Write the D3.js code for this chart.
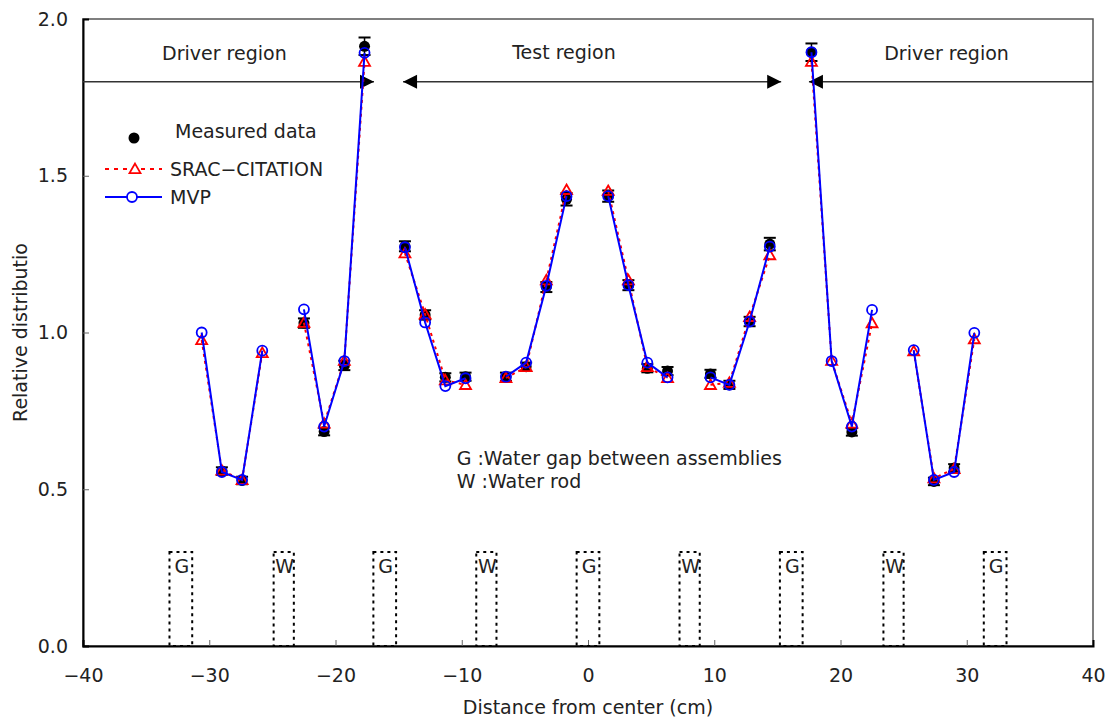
<!DOCTYPE html>
<html>
<head>
<meta charset="utf-8">
<script src="https://cdn.jsdelivr.net/npm/d3@7"></script>
<style>
  body { margin: 0; background: #fff; }
  text { font-family: "DejaVu Sans", sans-serif; fill: #222; }
</style>
</head>
<body>
<div id="chart"></div>
<script>
// pin positions (cm) and relative distributions, 4 pins per half-assembly
var xPos = [-30.6, -29.0, -27.4, -25.8, -22.5, -20.9, -19.3, -17.7,
            -14.5, -12.9, -11.3, -9.7, -6.5, -4.9, -3.3, -1.7,
            1.6, 3.2, 4.7, 6.3, 9.7, 11.2, 12.8, 14.4,
            17.7, 19.3, 20.9, 22.5, 25.8, 27.4, 29.0, 30.6];

var measured = [null, 0.558, 0.528, null, 1.03, 0.684, 0.895, 1.913,
                1.275, 1.056, 0.857, 0.859, 0.859, 0.891, 1.145, 1.425,
                1.435, 1.151, 0.886, 0.877, 0.868, 0.833, 1.035, 1.282,
                1.894, null, 0.683, null, null, 0.525, 0.568, null];

var measErr = [0, 0.012, 0.012, 0, 0.015, 0.012, 0.015, 0.028,
               0.016, 0.015, 0.013, 0.013, 0.013, 0.013, 0.016, 0.02,
               0.018, 0.016, 0.013, 0.013, 0.013, 0.013, 0.015, 0.02,
               0.028, 0, 0.012, 0, 0, 0.012, 0.012, 0];

var srac = [0.976, 0.56, 0.53, 0.935, 1.031, 0.71, 0.91, 1.864,
            1.253, 1.058, 0.848, 0.833, 0.855, 0.89, 1.167, 1.455,
            1.452, 1.167, 0.89, 0.855, 0.833, 0.84, 1.05, 1.247,
            1.864, 0.91, 0.71, 1.03, 0.94, 0.535, 0.565, 0.979];

var mvp = [1.0, 0.555, 0.53, 0.942, 1.074, 0.70, 0.909, 1.892,
           1.272, 1.032, 0.829, 0.854, 0.859, 0.904, 1.149, 1.435,
           1.435, 1.151, 0.904, 0.857, 0.857, 0.833, 1.035, 1.274,
           1.894, 0.909, 0.70, 1.072, 0.944, 0.53, 0.555, 0.999];

var gapCenters = [-32.25, -16.1, 0, 16.1, 32.25];
var rodCenters = [-24.1, -8.05, 8.05, 24.2];

var xTicks = [-40, -30, -20, -10, 0, 10, 20, 30, 40];
var yTicks = [0, 0.5, 1.0, 1.5, 2.0];

var svgWidth = 1109;
var svgHeight = 722;
var margin = { top: 19, right: 16, bottom: 76, left: 83 };
var width = svgWidth - margin.left - margin.right;
var height = svgHeight - margin.top - margin.bottom;

var svg = d3.select("#chart").append("svg")
    .attr("width", svgWidth)
    .attr("height", svgHeight);

var g = svg.append("g")
    .attr("transform", `translate(${margin.left}, ${margin.top})`);

var x = d3.scaleLinear().domain([-40, 40]).range([0, width]);
var y = d3.scaleLinear().domain([0, 2]).range([height, 0]);

// frame
g.append("rect")
    .attr("width", width).attr("height", height)
    .attr("fill", "none").attr("stroke", "#555").attr("stroke-width", 1.5);

// axes with inward ticks
var xAxis = g.append("g")
    .attr("transform", `translate(0, ${height})`)
    .call(d3.axisBottom(x).tickValues(xTicks).tickSize(-6).tickPadding(23)
        .tickFormat(d => d3.format("d")(d).replace("-", "\u2212")));
var yAxis = g.append("g")
    .call(d3.axisLeft(y).tickValues(yTicks).tickSize(-6).tickPadding(15)
        .tickFormat(d3.format(".1f")));

[xAxis, yAxis].forEach(function(a) {
  a.select(".domain").attr("stroke", "#000").attr("stroke-width", 2);
  a.selectAll(".tick line").attr("stroke", "#666");
  a.selectAll(".tick text").attr("font-size", 19).attr("fill", "#222")
    .attr("font-family", "DejaVu Sans, sans-serif");
});
yAxis.selectAll(".tick line").filter(d => d === 0 || d === 2).remove();
xAxis.selectAll(".tick line").filter(d => d === -40 || d === 40).remove();

// axis titles
svg.append("text")
    .attr("x", margin.left + x(0)).attr("y", 714)
    .attr("text-anchor", "middle").attr("font-size", 19)
    .text("Distance from center (cm)");
svg.append("text")
    .attr("transform", `translate(27, ${margin.top + y(1.0)}) rotate(-90)`)
    .attr("text-anchor", "middle").attr("font-size", 19)
    .text("Relative distributio");

// region arrows at 1.8
var arrowY = y(1.8);
var regionLines = [[-40, -16.95], [-14.65, 15.3], [17.5, 40]];
regionLines.forEach(function(r) {
  g.append("line")
      .attr("x1", x(r[0])).attr("x2", x(r[1]))
      .attr("y1", arrowY).attr("y2", arrowY)
      .attr("stroke", "#333").attr("stroke-width", 1.5);
});
var heads = [[-16.95, 1], [-14.65, -1], [15.3, 1], [17.5, -1]];
g.selectAll(".head").data(heads).enter().append("path")
    .attr("class", "head")
    .attr("d", function(d) {
      var tx = x(d[0]), b = tx - d[1] * 14;
      return `M${tx},${arrowY}L${b},${arrowY - 7}L${b},${arrowY + 7}Z`;
    })
    .attr("fill", "#000");

var regionLabels = [["Driver region", -28.8, 1.89], ["Test region", -1.9, 1.895], ["Driver region", 28.4, 1.89]];
g.selectAll(".region").data(regionLabels).enter().append("text")
    .attr("x", d => x(d[1])).attr("y", d => y(d[2]) + 7)
    .attr("text-anchor", "middle").attr("font-size", 19)
    .text(d => d[0]);

// water gap / water rod boxes
var boxes = gapCenters.map(c => ({ c: c, w: 1.8, label: "G" }))
    .concat(rodCenters.map(c => ({ c: c, w: 1.6, label: "W" })));
g.selectAll(".box").data(boxes).enter().append("rect")
    .attr("x", d => x(d.c - d.w / 2))
    .attr("y", y(0.3))
    .attr("width", d => x(d.c + d.w / 2) - x(d.c - d.w / 2))
    .attr("height", y(0) - y(0.3))
    .attr("fill", "none").attr("stroke", "#000")
    .attr("stroke-width", 2).attr("stroke-dasharray", "3,4");
g.selectAll(".boxlbl").data(boxes).enter().append("text")
    .attr("x", d => x(d.c) + 1).attr("y", y(0.3) + 21)
    .attr("text-anchor", "middle").attr("font-size", 19)
    .text(d => d.label);

g.append("text").attr("x", x(-10.4)).attr("y", y(0.6) + 7)
    .attr("font-size", 19).text("G :Water gap between assemblies");
g.append("text").attr("x", x(-10.4)).attr("y", y(0.525) + 7)
    .attr("font-size", 19).text("W :Water rod");

// data in segments of 4 pins
var segments = d3.range(xPos.length / 4).map(function(s) {
  return d3.range(s * 4, s * 4 + 4);
});

var lineS = d3.line().x(i => x(xPos[i])).y(i => y(srac[i]));
var lineM = d3.line().x(i => x(xPos[i])).y(i => y(mvp[i]));

var idx = d3.range(xPos.length);
var measIdx = idx.filter(i => measured[i] !== null);

// measured error bars + dots
var eb = g.selectAll(".err").data(measIdx).enter().append("g");
eb.append("line")
    .attr("x1", i => x(xPos[i])).attr("x2", i => x(xPos[i]))
    .attr("y1", i => y(measured[i] + measErr[i])).attr("y2", i => y(measured[i] - measErr[i]))
    .attr("stroke", "#000").attr("stroke-width", 1.5);
[1, -1].forEach(function(sg) {
  eb.append("line")
      .attr("x1", i => x(xPos[i]) - 6).attr("x2", i => x(xPos[i]) + 6)
      .attr("y1", i => y(measured[i] + sg * measErr[i]))
      .attr("y2", i => y(measured[i] + sg * measErr[i]))
      .attr("stroke", "#000").attr("stroke-width", 2);
});
g.selectAll(".meas").data(measIdx).enter().append("circle")
    .attr("cx", i => x(xPos[i])).attr("cy", i => y(measured[i]))
    .attr("r", 5.5).attr("fill", "#000");

// SRAC-CITATION
g.selectAll(".sline").data(segments).enter().append("path")
    .attr("d", lineS).attr("fill", "none")
    .attr("stroke", "#ff0000").attr("stroke-width", 2).attr("stroke-dasharray", "3,4");
var tri = d3.symbol().type(d3.symbolTriangle).size(52);
g.selectAll(".tri").data(idx).enter().append("path")
    .attr("d", tri)
    .attr("transform", i => `translate(${x(xPos[i])}, ${y(srac[i]) + 1})`)
    .attr("fill", "none").attr("stroke", "#ff0000").attr("stroke-width", 1.8);

// MVP
g.selectAll(".mline").data(segments).enter().append("path")
    .attr("d", lineM).attr("fill", "none")
    .attr("stroke", "#0000ff").attr("stroke-width", 2);
g.selectAll(".circ").data(idx).enter().append("circle")
    .attr("cx", i => x(xPos[i])).attr("cy", i => y(mvp[i]))
    .attr("r", 5).attr("fill", "none")
    .attr("stroke", "#0000ff").attr("stroke-width", 1.8);

// legend
var leg = svg.append("g");
leg.append("circle").attr("cx", 134).attr("cy", 138).attr("r", 5.5).attr("fill", "#000");
leg.append("text").attr("x", 175).attr("y", 138).attr("font-size", 19).text("Measured data");
leg.append("line").attr("x1", 105).attr("x2", 162).attr("y1", 169).attr("y2", 169)
    .attr("stroke", "#ff0000").attr("stroke-width", 2).attr("stroke-dasharray", "4,5");
leg.append("path").attr("d", tri)
    .attr("transform", "translate(135, 170)")
    .attr("fill", "#fff").attr("stroke", "#ff0000").attr("stroke-width", 1.8);
leg.append("text").attr("x", 170).attr("y", 176).attr("font-size", 19).text("SRAC\u2212CITATION");
leg.append("line").attr("x1", 105).attr("x2", 162).attr("y1", 197).attr("y2", 197)
    .attr("stroke", "#0000ff").attr("stroke-width", 2);
leg.append("circle").attr("cx", 132).attr("cy", 197).attr("r", 5)
    .attr("fill", "#fff").attr("stroke", "#0000ff").attr("stroke-width", 1.8);
leg.append("text").attr("x", 170).attr("y", 204).attr("font-size", 19).text("MVP");
</script>
</body>
</html>
